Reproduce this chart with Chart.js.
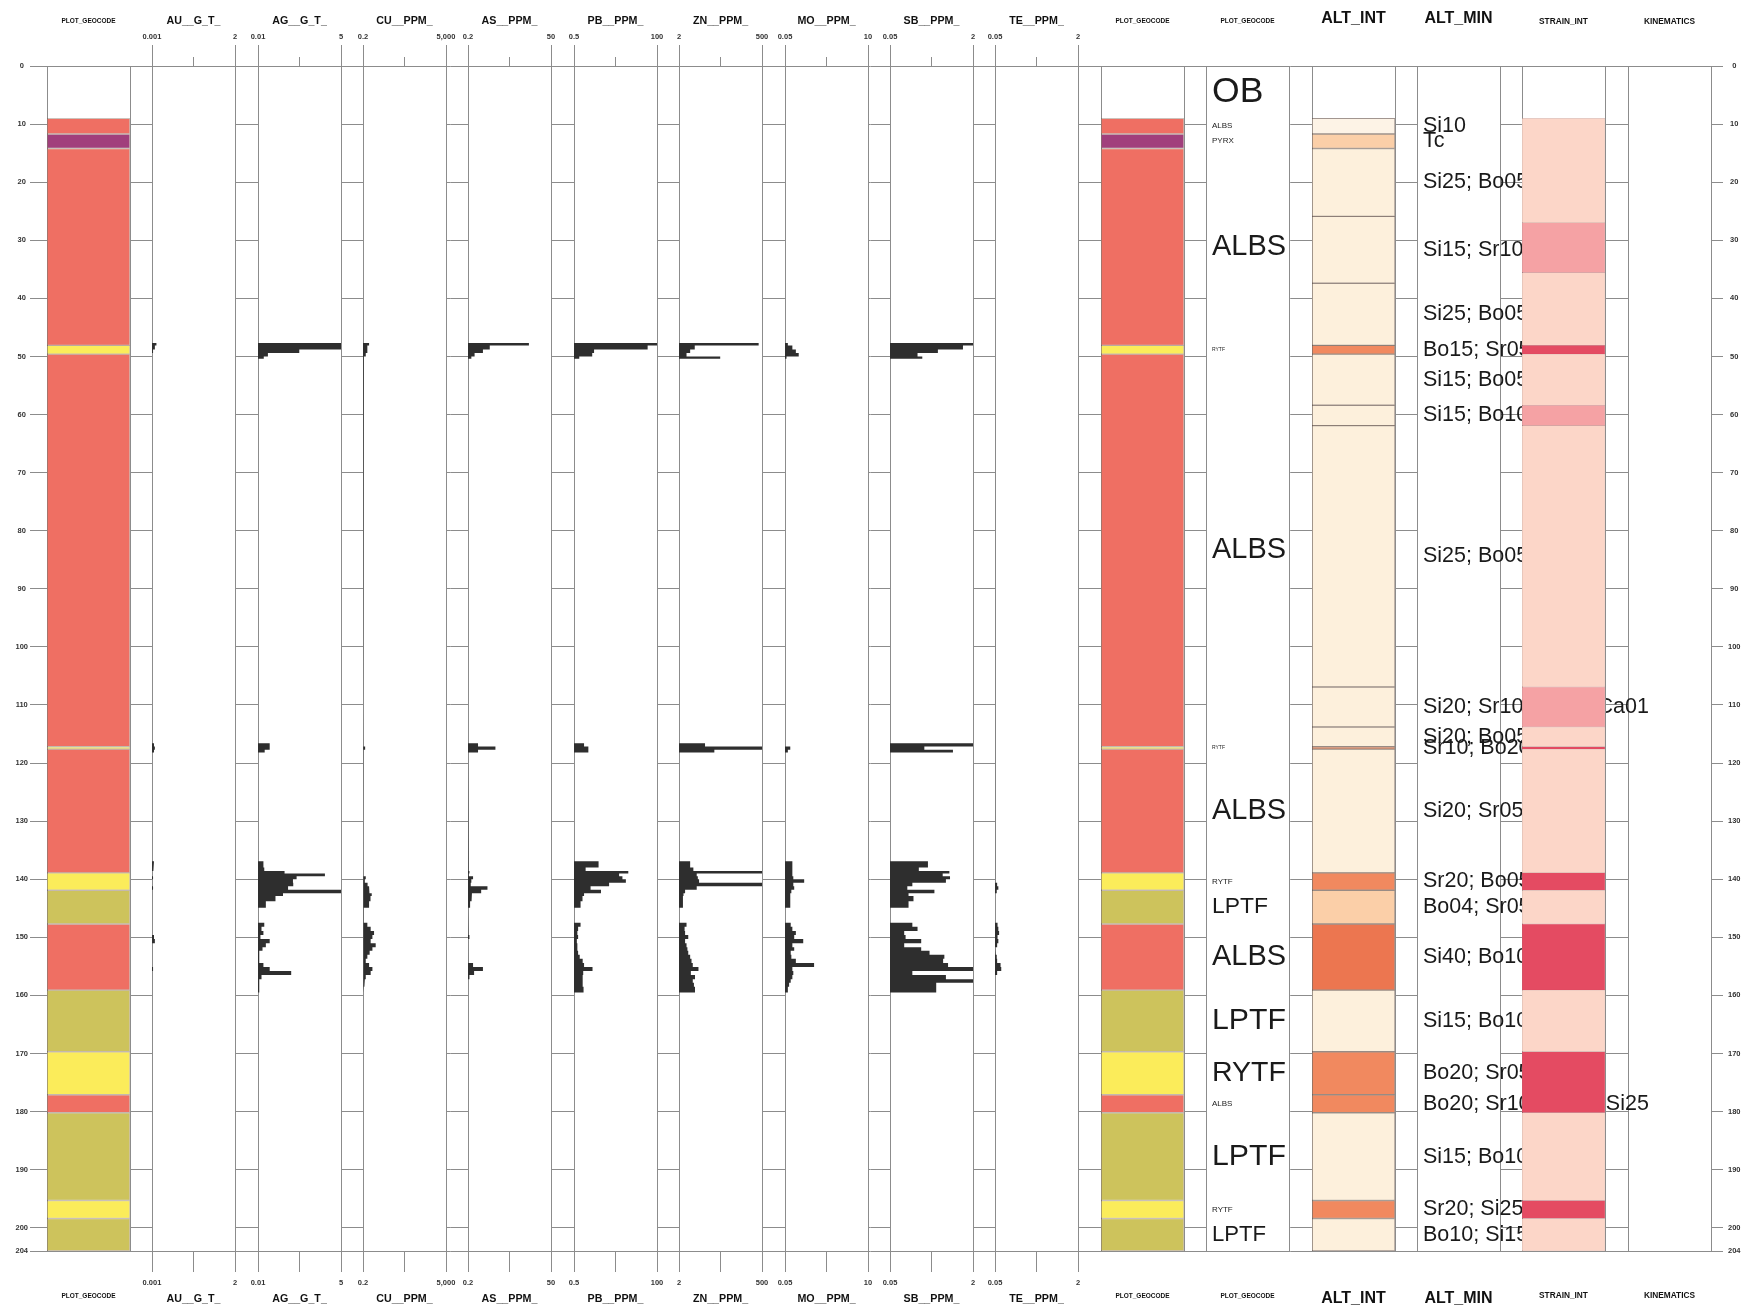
<!DOCTYPE html>
<html>
<head>
<meta charset="utf-8">
<script src="https://cdn.jsdelivr.net/npm/chart.js@4.4.0/dist/chart.umd.min.js"></script>
<style>
  body { margin: 0; background: #fff; width: 1747px; height: 1310px; position: relative; overflow: hidden; }
  canvas { position: absolute; top: 0; }
</style>
</head>
<body>
<script>
// ---- depth axis ----
const depthMax = 204;
const depthTicks = [0, 10, 20, 30, 40, 50, 60, 70, 80, 90, 100, 110, 120, 130, 140, 150, 160, 170, 180, 190, 200, 204];

// ---- lithology (PLOT_GEOCODE) ----
const geoFrom = [0, 9, 11.7, 14.2, 48.1, 49.6, 117.2, 117.6, 138.9, 141.9, 147.7, 159.1, 169.7, 177.1, 180.2, 195.3, 198.4];
const geoTo = [9, 11.7, 14.2, 48.1, 49.6, 117.2, 117.6, 138.9, 141.9, 147.7, 159.1, 169.7, 177.1, 180.2, 195.3, 198.4, 204];
const geoCode = ['OB', 'ALBS', 'PYRX', 'ALBS', 'RYTF', 'ALBS', 'RYTF', 'ALBS', 'RYTF', 'LPTF', 'ALBS', 'LPTF', 'RYTF', 'ALBS', 'LPTF', 'RYTF', 'LPTF'];

// ---- alteration ----
const altFrom = [9, 11.7, 14.2, 25.9, 37.4, 48.1, 49.6, 58.4, 61.9, 106.9, 113.8, 117.2, 117.6, 138.9, 141.9, 147.7, 159.1, 169.7, 177.1, 180.2, 195.3, 198.4];
const altTo = [11.7, 14.2, 25.9, 37.4, 48.1, 49.6, 58.4, 61.9, 106.9, 113.8, 117.2, 117.6, 138.9, 141.9, 147.7, 159.1, 169.7, 177.1, 180.2, 195.3, 198.4, 204];
const altInt = [0, 2, 1, 1, 1, 3, 1, 1, 1, 1, 1, 3, 1, 3, 2, 4, 1, 3, 3, 1, 3, 1];
const altMin = ['Si10', 'Tc', 'Si25; Bo05', 'Si15; Sr10', 'Si25; Bo05', 'Bo15; Sr05; Si05', 'Si15; Bo05', 'Si15; Bo10',
  'Si25; Bo05', 'Si20; Sr10; Bo05; Ca01', 'Si20; Bo05', 'Sr10; Bo20', 'Si20; Sr05', 'Sr20; Bo05', 'Bo04; Sr05',
  'Si40; Bo10', 'Si15; Bo10', 'Bo20; Sr05', 'Bo20; Sr10; Ca05; Si25', 'Si15; Bo10', 'Sr20; Si25', 'Bo10; Si15'];

// ---- strain ----
const strainFrom = [9, 27.0, 35.6, 48.1, 49.6, 58.4, 61.9, 106.9, 113.8, 117.2, 117.6, 138.9, 141.9, 147.7, 159.1, 169.7, 180.2, 195.3, 198.4];
const strainTo = [27.0, 35.6, 48.1, 49.6, 58.4, 61.9, 106.9, 113.8, 117.2, 117.6, 138.9, 141.9, 147.7, 159.1, 169.7, 180.2, 195.3, 198.4, 204];
const strainInt = [1, 2, 1, 3, 1, 2, 1, 2, 1, 3, 1, 3, 1, 3, 1, 3, 1, 3, 1];

// ---- assays ----
const sampleFrom = [47.7, 48.1, 48.8, 49.4, 50.0,
  116.6, 117.15, 117.7,
  136.9, 138.0, 138.6, 139.0, 139.5, 140.0, 140.6, 141.2, 141.8, 142.4, 142.9, 143.8,
  147.5, 148.2, 148.9, 149.6, 150.3, 151.0, 151.7, 152.3, 153.0, 153.7, 154.4, 155.1, 155.8, 156.5, 157.2, 157.8, 158.5];
const sampleTo = [48.1, 48.8, 49.4, 50.0, 50.4,
  117.15, 117.7, 118.2,
  138.0, 138.6, 139.0, 139.5, 140.0, 140.6, 141.2, 141.8, 142.4, 142.9, 143.8, 144.9,
  148.2, 148.9, 149.6, 150.3, 151.0, 151.7, 152.3, 153.0, 153.7, 154.4, 155.1, 155.8, 156.5, 157.2, 157.8, 158.5, 159.5];

const au = [0.0015, 0.0013, 0.0011, 0.001, 0.001,
  0.0012, 0.0013, 0.0012,
  0.0012, 0.0011, 0.001, 0.001, 0.0011, 0.001, 0.001, 0.0011, 0.001, 0.001, 0.001, 0.001,
  0.001, 0.001, 0.001, 0.0012, 0.0013, 0.001, 0.001, 0.001, 0.001, 0.001, 0.001, 0.0011, 0.001, 0.001, 0.001, 0.001, 0.001];
const ag = [5, 5, 0.22, 0.021, 0.0154,
  0.024, 0.024, 0.0165,
  0.015, 0.016, 0.073, 1.5, 0.18, 0.137, 0.14, 0.095, 5, 0.065, 0.037, 0.018,
  0.016, 0.013, 0.015, 0.012, 0.024, 0.018, 0.014, 0.011, 0.011, 0.011, 0.015, 0.024, 0.12, 0.013, 0.011, 0.011, 0.011];
const cu = [0.42, 0.34, 0.34, 0.28, 0.22,
  0.2, 0.26, 0.2,
  0.21, 0.21, 0.21, 0.22, 0.28, 0.25, 0.35, 0.42, 0.45, 0.58, 0.5, 0.42,
  0.34, 0.51, 0.77, 0.63, 0.51, 0.94, 0.63, 0.45, 0.34, 0.28, 0.42, 0.63, 0.51, 0.28, 0.25, 0.23, 0.22];
const as = [11.5, 0.85, 0.54, 0.31, 0.25,
  0.39, 1.24, 0.39,
  0.21, 0.21, 0.22, 0.21, 0.28, 0.25, 0.24, 0.73, 0.48, 0.26, 0.25, 0.23,
  0.21, 0.2, 0.21, 0.22, 0.2, 0.21, 0.2, 0.2, 0.2, 0.2, 0.28, 0.54, 0.3, 0.22, 0.2, 0.2, 0.2];
const pb = [100, 55, 1.8, 1.6, 0.7,
  0.95, 1.25, 1.25,
  2.4, 1.05, 16, 8.9, 11, 13.7, 4.7, 1.44, 2.8, 0.95, 0.86, 0.76,
  0.76, 0.65, 0.62, 0.65, 0.6, 0.62, 0.62, 0.65, 0.72, 0.87, 0.95, 1.63, 0.9, 0.87, 0.87, 0.87, 0.92];
const zn = [400, 5.7, 4.2, 3.3, 31,
  11.3, 500, 21,
  4.2, 5.2, 500, 6.5, 7, 7.6, 500, 6.5, 3.0, 2.7, 2.6, 2.6,
  3.3, 2.9, 3.0, 3.7, 3.0, 3.3, 3.5, 3.7, 4.2, 4.6, 5.0, 7.3, 4.4, 5.8, 5.0, 5.4, 5.8];
const mo = [0.06, 0.08, 0.1, 0.12, 0.055,
  0.05, 0.07, 0.06,
  0.08, 0.08, 0.08, 0.08, 0.085, 0.17, 0.085, 0.09, 0.075, 0.07, 0.07, 0.07,
  0.072, 0.08, 0.1, 0.09, 0.16, 0.08, 0.09, 0.072, 0.075, 0.1, 0.32, 0.08, 0.085, 0.08, 0.072, 0.065, 0.06];
const sb = [2, 1.28, 0.42, 0.17, 0.21,
  2, 0.23, 0.82,
  0.27, 0.18, 0.7, 0.52, 0.72, 0.6, 0.135, 0.108, 0.36, 0.114, 0.142, 0.114,
  0.135, 0.17, 0.094, 0.1, 0.2, 0.094, 0.2, 0.29, 0.56, 0.53, 0.66, 2, 0.135, 0.6, 2, 0.39, 0.39];
const te = [0.05, 0.052, 0.05, 0.05, 0.05,
  0.05, 0.052, 0.05,
  0.05, 0.05, 0.05, 0.05, 0.05, 0.05, 0.055, 0.058, 0.054, 0.05, 0.05, 0.05,
  0.056, 0.058, 0.06, 0.056, 0.058, 0.055, 0.05, 0.052, 0.054, 0.055, 0.064, 0.066, 0.055, 0.05, 0.05, 0.05, 0.05];

const elemNames = ['AU__G_T_', 'AG__G_T_', 'CU__PPM_', 'AS__PPM_', 'PB__PPM_', 'ZN__PPM_', 'MO__PPM_', 'SB__PPM_', 'TE__PPM_'];
const elemMin = [0.001, 0.01, 0.2, 0.2, 0.5, 2, 0.05, 0.05, 0.05];
const elemMax = [2, 5, 5000, 50, 100, 500, 10, 2, 2];
const elemValues = [au, ag, cu, as, pb, zn, mo, sb, te];

// ---- styling ----
const W = 1747, H = 1310, TOP = 66, BOTTOM = 1251;
const COL_X0 = 46.7, COL_STEP = 105.4, COL_W = 83;
const FAMILY = 'Arial, "Liberation Sans", Helvetica, sans-serif';
const GRID = '#8c8c8c';
const BAR = '#2e2e2e';
const geoColor = { OB: 'rgba(0,0,0,0)', ALBS: '#ef6f63', PYRX: '#a13f7c', RYTF: '#fbec5a', LPTF: '#cdc35c' };
const altColor = ['#fdf3e6', '#fdf0dc', '#fbcfa8', '#f1895f', '#ec7650'];
const strainColor = ['#fff', '#fcd6c8', '#f5a2a4', '#e44b62'];

Chart.defaults.font.family = FAMILY;

const common = {
  responsive: false, animation: false, devicePixelRatio: 1, events: [],
  plugins: { legend: { display: false }, tooltip: { enabled: false } }
};

const paper = {
  id: 'paper',
  beforeDraw(chart) {
    const { ctx, chartArea: a } = chart;
    ctx.save();
    ctx.fillStyle = '#fff';
    ctx.fillRect(a.left, a.top, a.right - a.left, a.bottom - a.top);
    ctx.restore();
  }
};

function colX(k) { return Math.round(COL_X0 + k * COL_STEP); }

function addCanvas(left, width, z) {
  const c = document.createElement('canvas');
  c.width = width; c.height = H;
  c.style.left = left + 'px';
  c.style.zIndex = z;
  document.body.appendChild(c);
  return c;
}

const depthHidden = { type: 'linear', min: 0, max: depthMax, reverse: true, display: false };

function titleOpts(text, size, yMid, isTop) {
  return {
    display: true, text, color: '#111',
    font: { size, weight: 'bold', lineHeight: 1 },
    padding: isTop ? { top: yMid - size / 2, bottom: 0 } : { top: 0, bottom: H - yMid - size / 2 }
  };
}

// stepped outline of the assay bars, closed back to the axis minimum
function stepOutline(vals, lo) {
  const pts = [];
  for (let i = 0; i < sampleFrom.length; i++) {
    if (i === 0 || sampleFrom[i] !== sampleTo[i - 1]) {
      if (i > 0) pts.push({ x: lo, y: sampleTo[i - 1] });
      pts.push({ x: lo, y: sampleFrom[i] });
    }
    pts.push({ x: vals[i], y: sampleFrom[i] }, { x: vals[i], y: sampleTo[i] });
  }
  pts.push({ x: lo, y: sampleTo[sampleTo.length - 1] });
  return pts;
}

const fmt = v => v.toLocaleString('en-US', { maximumFractionDigits: 4 });

function logAxis(position, name, lo, hi, isTop) {
  const mid = Math.sqrt(lo * hi);
  return {
    type: 'logarithmic', axis: 'x', position, min: lo, max: hi,
    afterBuildTicks: s => { s.ticks = [lo, mid, hi].map(v => ({ value: v })); },
    afterFit: s => { s.height = isTop ? TOP : H - BOTTOM; },
    ticks: {
      autoSkip: false, maxRotation: 0, minRotation: 0, padding: isTop ? 4 : 6,
      font: { size: 7.5, weight: 'bold' }, color: '#333',
      callback: (v, i) => (i === 1 ? '' : fmt(v))
    },
    grid: {
      drawOnChartArea: isTop, tickLength: 21, tickColor: GRID,
      color: c => (c.index === 1 ? 'rgba(0,0,0,0)' : GRID),
      tickBorderDash: c => (isTop && c.index === 1 ? [0, 12, 9, 0] : [])
    },
    border: { display: true, color: GRID },
    title: titleOpts(name, 10.7, isTop ? 21.5 : 1299, isTop)
  };
}

function catAxis(position, title, size, yTitle, isTop) {
  return {
    type: 'category', position, offset: true,
    afterFit: s => { s.height = isTop ? TOP : H - BOTTOM; },
    ticks: { display: false },
    grid: { drawOnChartArea: isTop, drawTicks: false, color: GRID, offset: true },
    border: { display: true, color: GRID },
    title: titleOpts(title, size, yTitle, isTop)
  };
}

const headers = {
  geo: ['PLOT_GEOCODE', 6.5, 21.5, 1296],
  big: [null, 16, 18.5, 1299],
  small: [null, 8.3, 21.5, 1296]
};

function columnScales(kind, title) {
  const [, size, yt, yb] = headers[kind];
  return {
    x: catAxis('top', title, size, yt, true),
    x2: catAxis('bottom', title, size, yb, false),
    y: depthHidden
  };
}

// ---- frame: depth grid and both depth axes ----
const depthLabelAxis = (position, width, extra) => Object.assign({
  type: 'linear', position, axis: 'y', min: 0, max: depthMax, reverse: true,
  afterBuildTicks: s => { s.ticks = depthTicks.map(v => ({ value: v })); },
  afterFit: s => { s.width = width; },
  border: { display: false }
}, extra);

const rightEdge = colX(15) + COL_W;
new Chart(addCanvas(0, W, 0), {
  type: 'line',
  data: { datasets: [] },
  options: Object.assign({}, common, {
    layout: { padding: { top: TOP, bottom: H - BOTTOM, left: 0, right: 0 } },
    scales: {
      x: { display: false },
      y: depthLabelAxis('left', 30, {
        grid: { color: GRID, drawTicks: false },
        ticks: { crossAlign: 'center', padding: 2, font: { size: 7.5, weight: 'bold' }, color: '#333' }
      }),
      yR: depthLabelAxis('right', W - rightEdge, {
        grid: { drawOnChartArea: false, tickLength: 12, color: GRID },
        ticks: { crossAlign: 'center', padding: 5, font: { size: 7.5, weight: 'bold' }, color: '#333' }
      })
    }
  })
});

// ---- interval (filled) columns ----
function intervalColumn(k, kind, title, from, to, colors, edge, edgeWidth, z) {
  const pad = 30;
  const c = addCanvas(colX(k) - pad, COL_W + 2 * pad, z);
  new Chart(c, {
    type: 'bar',
    data: {
      labels: ['c'],
      datasets: [{
        data: from.map((f, i) => ({ x: 'c', y: [f, to[i]] })),
        backgroundColor: colors,
        borderColor: ctx => (colors[ctx.dataIndex] === 'rgba(0,0,0,0)' ? 'rgba(0,0,0,0)' : edge),
        borderWidth: edgeWidth, borderSkipped: false,
        barPercentage: 1, categoryPercentage: 1
      }]
    },
    options: Object.assign({}, common, {
      layout: { padding: { left: pad, right: pad, top: 0, bottom: 0 } },
      scales: columnScales(kind, title || headers[kind][0])
    }),
    plugins: [paper]
  });
}

// ---- text columns ----
function textColumn(k, kind, title, from, to, text, sizeFor, padR, z) {
  const pad = 30;
  const labels = {
    id: 'intervalText',
    afterDatasetsDraw(chart) {
      const { ctx, chartArea } = chart;
      const y = chart.scales.y;
      ctx.save();
      ctx.fillStyle = '#1a1a1a';
      ctx.textBaseline = 'middle';
      ctx.textAlign = 'left';
      text.forEach((t, i) => {
        const y0 = y.getPixelForValue(from[i]), y1 = y.getPixelForValue(to[i]);
        const size = sizeFor(Math.abs(y1 - y0), t, ctx);
        ctx.font = size + 'px ' + FAMILY;
        ctx.fillText(t, chartArea.left + 6, (y0 + y1) / 2);
      });
      ctx.restore();
    }
  };
  new Chart(addCanvas(colX(k) - pad, COL_W + pad + padR, z), {
    type: 'bar',
    data: { labels: ['c'], datasets: [] },
    options: Object.assign({}, common, {
      layout: { padding: { left: pad, right: padR, top: 0, bottom: 0 } },
      scales: columnScales(kind, title || headers[kind][0])
    }),
    plugins: [paper, labels]
  });
}

// ---- assay columns ----
function assayColumn(k, e) {
  const pad = 30;
  new Chart(addCanvas(colX(k) - pad, COL_W + 2 * pad, 1), {
    type: 'line',
    data: {
      datasets: [{
        data: stepOutline(elemValues[e], elemMin[e]),
        fill: 'shape', backgroundColor: BAR,
        borderColor: 'rgba(0,0,0,0)', borderWidth: 0, pointRadius: 0, tension: 0
      }]
    },
    options: Object.assign({}, common, {
      indexAxis: 'y',
      layout: { padding: { left: pad, right: pad, top: 0, bottom: 0 } },
      scales: {
        x: logAxis('top', elemNames[e], elemMin[e], elemMax[e], true),
        x2: logAxis('bottom', elemNames[e], elemMin[e], elemMax[e], false),
        y: depthHidden
      }
    }),
    plugins: [paper]
  });
}

const geoColors = geoCode.map(c => geoColor[c]);
intervalColumn(0, 'geo', null, geoFrom, geoTo, geoColors, 'rgba(110,80,60,0.35)', 1, 1);
elemNames.forEach((_, e) => assayColumn(e + 1, e));
intervalColumn(10, 'geo', null, geoFrom, geoTo, geoColors, 'rgba(110,80,60,0.35)', 1, 1);

// lithology labels: grow with interval height, but keep inside the column width
const geoLabelSize = (h, t, ctx) => {
  const m = h / ((BOTTOM - TOP) / depthMax);
  if (m < 2) return 5;
  if (m < 4) return 8;
  ctx.font = '100px ' + FAMILY;
  const em = ctx.measureText(t).width / 100;
  return Math.min(0.68 * h, 74 / em);
};
textColumn(11, 'geo', null, geoFrom, geoTo, geoCode, geoLabelSize, 30, 1);
intervalColumn(12, 'big', 'ALT_INT', altFrom, altTo, altInt.map(v => altColor[v]), 'rgba(100,80,70,0.6)', 1, 1);
textColumn(15, 'small', 'KINEMATICS', [], [], [], () => 10, 30, 1);
textColumn(13, 'big', 'ALT_MIN', altFrom, altTo, altMin, () => 21.5, 250, 2);
intervalColumn(14, 'small', 'STRAIN_INT', strainFrom, strainTo, strainInt.map(v => strainColor[v]), 'rgba(120,70,70,0.35)', 0.5, 3);
</script>
</body>
</html>
